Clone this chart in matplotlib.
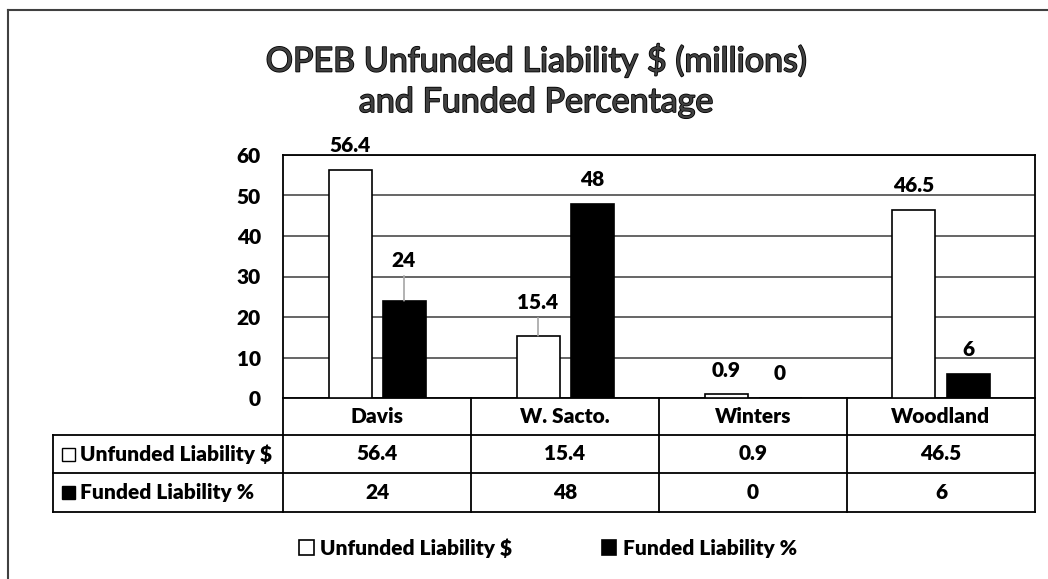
import matplotlib
matplotlib.use("Agg")
import matplotlib.pyplot as plt
import matplotlib.transforms as mtransforms
import matplotlib.patheffects as pe
from matplotlib.lines import Line2D
from matplotlib.patches import Rectangle
import numpy as np

plt.rcParams['font.family'] = ['Lato', 'DejaVu Sans']

# chart data
cities = ['Davis', 'W. Sacto.', 'Winters', 'Woodland']
unfunded = [56.4, 15.4, 0.9, 46.5]
funded = [24, 48, 0, 6]
series_names = ['Unfunded Liability $', 'Funded Liability %']
yticks = [0, 10, 20, 30, 40, 50, 60]
title_lines = ['OPEB Unfunded Liability $ (millions)', 'and Funded Percentage']

W, H = 1048, 579
BOLD = 800
FS = 15
fig = plt.figure(figsize=(W / 100, H / 100), dpi=100)


# pixel -> figure fraction helpers
def fx(px):
    return px / W


def fy(py):
    return 1 - py / H


ax = fig.add_axes([fx(283), fy(398), fx(1035) - fx(283), fy(155) - fy(398)])

x = np.arange(len(cities))
bw = 43 / 188
off = 27 / 188
b1 = ax.bar(x - off, unfunded, bw, color='white', edgecolor='black', lw=1.2, zorder=3)
b2 = ax.bar(x + off, funded, bw, color='black', edgecolor='black', lw=1.2, zorder=3)

ax.set_xlim(-0.5, len(cities) - 0.5)
ax.set_ylim(0, 60)
ax.set_yticks(yticks)
ax.set_xticks([])
ax.yaxis.grid(True, color='#3c3c3c', lw=1.1)
ax.set_axisbelow(True)
ax.tick_params(axis='y', length=0, pad=16, labelsize=FS)
for t in ax.get_yticklabels():
    t.set_fontweight(BOLD)
for s in ax.spines.values():
    s.set_color('black')
    s.set_linewidth(1.3)

# data labels; two of them are lifted with a leader line
lifted = {(1, 0): 33, (0, 1): 40}
for si, (vals, xs) in enumerate([(unfunded, x - off), (funded, x + off)]):
    for ci, (xc, v) in enumerate(zip(xs, vals)):
        lbl = f'{v:g}'
        dy = lifted.get((ci, si), 24)
        kw = {}
        if (ci, si) in lifted:
            kw['arrowprops'] = dict(arrowstyle='-', color='#a6a6a6', lw=1.2,
                                    shrinkA=2, shrinkB=0)
        ax.annotate(lbl, (xc, v), xytext=(0, dy), textcoords='offset pixels',
                    ha='center', va='center', fontsize=FS, fontweight=BOLD, **kw)

# data table below the plot
trans = mtransforms.blended_transform_factory(ax.transData, fig.transFigure)
lc = dict(color='black', lw=1.3)
for yy in [435, 473, 512]:
    fig.add_artist(Line2D([fx(53), fx(1035)], [fy(yy), fy(yy)], transform=fig.transFigure, **lc))
fig.add_artist(Line2D([fx(53), fx(53)], [fy(435), fy(512)], transform=fig.transFigure, **lc))
for xb in np.arange(len(cities) + 1) - 0.5:
    fig.add_artist(Line2D([xb, xb], [fy(398), fy(512)], transform=trans, **lc))

tkw = dict(ha='center', va='center', fontsize=FS, fontweight=BOLD)
for i, c in enumerate(cities):
    fig.text(i, fy(416.5), c, transform=trans, **tkw)
    fig.text(i, fy(454), f'{unfunded[i]:g}', transform=trans, **tkw)
    fig.text(i, fy(492.5), f'{funded[i]:g}', transform=trans, **tkw)

for name, bars, yc in [(series_names[0], b1, 454), (series_names[1], b2, 492.5)]:
    fc = bars.patches[0].get_facecolor()
    fig.add_artist(Rectangle((fx(62), fy(yc + 6.5)), fx(13), 13 / H, facecolor=fc,
                             edgecolor='black', lw=1, transform=fig.transFigure))
    fig.text(fx(80), fy(yc), name, ha='left', va='center', fontsize=FS, fontweight=BOLD)

# legend
fig.legend([b1, b2], series_names, loc='center', bbox_to_anchor=(fx(548), fy(548)),
           ncol=2, frameon=False, prop=dict(weight=BOLD, size=FS),
           handlelength=0.7, handleheight=0.7, handletextpad=0.3, columnspacing=4.3)

# title
for line, yc in zip(title_lines, [60, 102]):
    fig.text(fx(536), fy(yc), line, ha='center', va='center', fontsize=24.5, color='#404040',
             path_effects=[pe.withStroke(linewidth=1.2, foreground='black')])

# outer chart frame (right and bottom edges fall outside the picture)
fig.add_artist(Line2D([fx(8), fx(8)], [fy(10), 0], transform=fig.transFigure, color='#404040', lw=1.5))
fig.add_artist(Line2D([fx(8), 1], [fy(10), fy(10)], transform=fig.transFigure, color='#404040', lw=1.5))

fig.savefig('out.png', dpi=100)
